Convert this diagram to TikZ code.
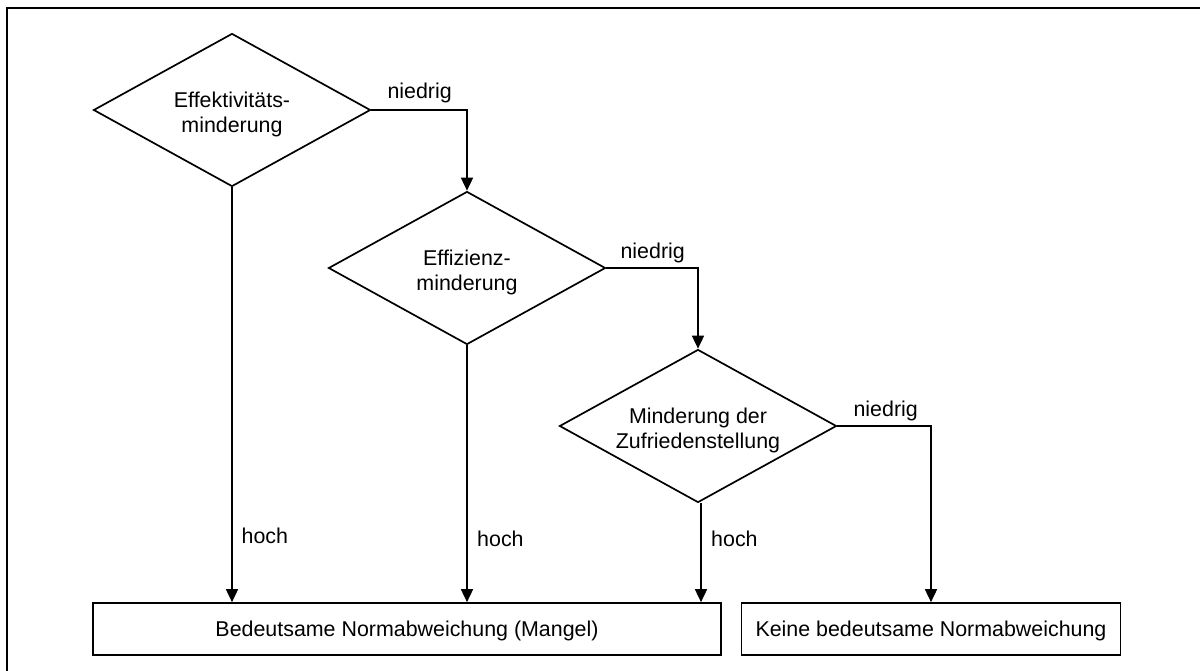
\documentclass[tikz,border=0pt]{standalone}
\usepackage{fontspec}
\setmainfont{Liberation Sans}
\usetikzlibrary{shapes.geometric,arrows.meta}

% raises the first line's top so the two-line text sits a little low
\newcommand{\toppad}{\rule{0pt}{25pt}}

\tikzset{
  txt/.style={font=\fontsize{21.4}{25}\selectfont},
  decision/.style={txt, diamond, draw, line width=1.7pt, aspect=1.82,
    minimum width=277pt, minimum height=153pt, inner sep=0pt, align=center},
  outcome/.style={txt, rectangle, draw, line width=1.7pt, minimum height=52pt,
    inner sep=0pt, text depth=0pt},
  flow/.style={line width=1.7pt, -{Triangle[length=13pt,width=12pt]}},
  branch/.style={txt, inner sep=0pt},
  frame/.style={line width=2.8pt}
}

\begin{document}
\begin{tikzpicture}[x=1pt,y=-1pt]
  \useasboundingbox (0,0) rectangle (1200,670);

  % outer frame (top and left edges)
  \draw[frame] (7,672) -- (7,8) -- (1202,8);

  % decisions
  \node[decision] (d1) at (232,110) {\toppad Effektivitäts-\\minderung};
  \node[decision] (d2) at (467,268) {\toppad Effizienz-\\minderung};
  \node[decision] (d3) at (698,426) {\toppad Minderung der\\Zufriedenstellung};

  % outcomes
  \node[outcome, minimum width=628pt] (b1) at (407,629) {Bedeutsame Normabweichung (Mangel)};
  \node[outcome, minimum width=379pt] (b2) at (931,629) {Keine bedeutsame Normabweichung};

  % "niedrig" branches
  \draw[flow] (d1.east) -| (d2.north);
  \draw[flow] (d2.east) -| (d3.north);
  \draw[flow] (d3.east) -| (b2.north);

  % "hoch" branches
  \draw[flow] (d1.south) -- (d1.south |- b1.north);
  \draw[flow] (d2.south) -- (d2.south |- b1.north);
  \draw[flow] ([xshift=3pt]d3.south) -- ([xshift=3pt]d3.south |- b1.north);

  % branch labels
  \node[branch, anchor=base west] (n1) at ([xshift=16pt,yshift=12pt]d1.east) {niedrig};
  \node[branch, anchor=base west] (n2) at ([xshift=14pt,yshift=10pt]d2.east) {niedrig};
  \node[branch, anchor=base west] (n3) at ([xshift=16pt,yshift=10pt]d3.east) {niedrig};
  \node[branch, anchor=base west] (h1) at (241.5,543) {hoch};
  \node[branch, anchor=base west] (h2) at (477,546) {hoch};
  \node[branch, anchor=base west] (h3) at (711,546) {hoch};
\end{tikzpicture}
\end{document}
